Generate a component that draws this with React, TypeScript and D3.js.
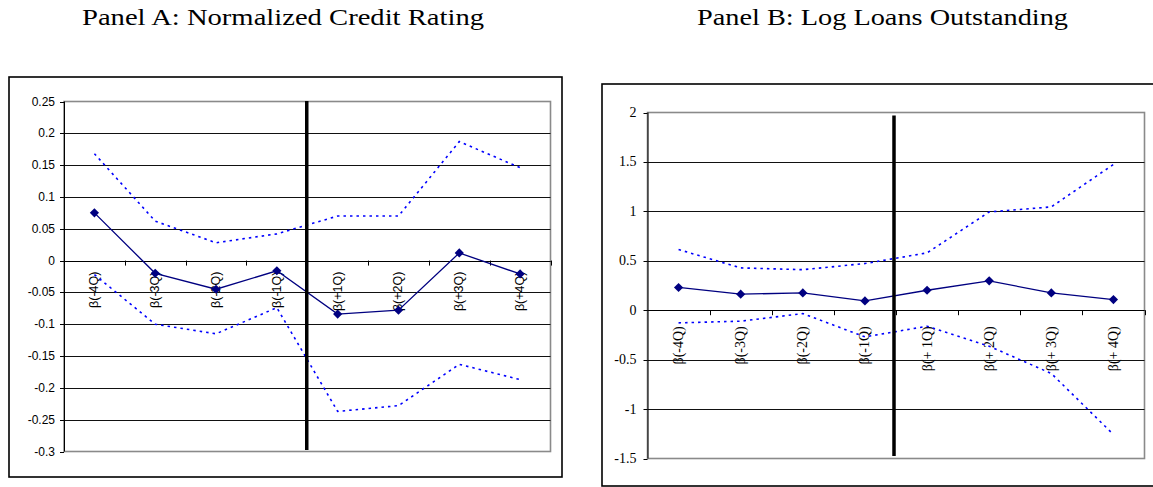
import React from "react";
import * as d3 from "d3";

// Event-window coefficients around the rating change, with confidence bands
const categoriesA = ["β(-4Q)", "β(-3Q)", "β(-2Q)", "β(-1Q)", "β(+1Q)", "β(+2Q)", "β(+3Q)", "β(+4Q)"];
const pointA = [0.075, -0.02, -0.045, -0.016, -0.084, -0.078, 0.012, -0.021];
const upperA = [0.168, 0.062, 0.028, 0.042, 0.07, 0.07, 0.187, 0.146];
const lowerA = [-0.022, -0.1, -0.115, -0.074, -0.237, -0.228, -0.163, -0.187];
const ticksA = [0.25, 0.2, 0.15, 0.1, 0.05, 0, -0.05, -0.1, -0.15, -0.2, -0.25, -0.3];
const tickLabelsA = ["0.25", "0.2", "0.15", "0.1", "0.05", "0", "-0.05", "-0.1", "-0.15", "-0.2", "-0.25", "-0.3"];

const categoriesB = ["β(-4Q)", "β(-3Q)", "β(-2Q)", "β(-1Q)", "β(+ 1Q)", "β(+ 2Q)", "β(+ 3Q)", "β(+ 4Q)"];
const pointB = [0.23, 0.162, 0.175, 0.094, 0.202, 0.297, 0.175, 0.108];
const upperB = [0.614, 0.428, 0.41, 0.472, 0.58, 0.994, 1.045, 1.474];
const lowerB = [-0.128, -0.111, -0.034, -0.27, -0.162, -0.364, -0.64, -1.257];
const ticksB = [2, 1.5, 1, 0.5, 0, -0.5, -1, -1.5];
const tickLabelsB = ["2", "1.5", "1", "0.5", "0", "-0.5", "-1", "-1.5"];

const SERIF = "Liberation Serif, Times New Roman, Times, serif";
const SANS = "Liberation Sans, Arial, Helvetica, sans-serif";

type PanelProps = {
  frame: { x: number; y: number; w: number; h: number };
  plot: { left: number; top: number; right: number; bottom: number };
  categories: string[];
  point: number[];
  upper: number[];
  lower: number[];
  ticks: number[];
  tickLabels: string[];
  font: string;
  yFontSize: number;
  yLabelGap: number;
  xFontSize: number;
  xLabelGap: number;
  eventLine: { top: number; bottom: number; dx: number };
};

function Panel(p: PanelProps) {
  const x = d3
    .scaleBand<string>()
    .domain(p.categories)
    .range([p.plot.left, p.plot.right])
    .paddingInner(0)
    .paddingOuter(0);
  const y = d3
    .scaleLinear()
    .domain([d3.min(p.ticks)!, d3.max(p.ticks)!])
    .range([p.plot.bottom, p.plot.top]);
  const cx = (i: number) => x(p.categories[i])! + x.bandwidth() / 2;
  const line = d3
    .line<number>()
    .x((_, i) => cx(i))
    .y((d) => y(d));
  const zeroY = y(0);
  const bounds = p.categories.map((c) => x(c)!).concat([p.plot.right]);
  const eventX = x(p.categories[4])! + p.eventLine.dx;
  const diamond = (px: number, py: number, r: number) =>
    `M${px},${py - r}L${px + r},${py}L${px},${py + r}L${px - r},${py}Z`;

  return (
    <g>
      <rect
        x={p.frame.x}
        y={p.frame.y}
        width={p.frame.w}
        height={p.frame.h}
        fill="#fff"
        stroke="#000"
        strokeWidth={1.6}
      />
      {/* plot area border */}
      <rect
        x={p.plot.left}
        y={p.plot.top}
        width={p.plot.right - p.plot.left}
        height={p.plot.bottom - p.plot.top}
        fill="none"
        stroke="#8a8a8a"
        strokeWidth={1.6}
      />
      {/* horizontal gridlines */}
      {p.ticks
        .filter((t) => t !== d3.max(p.ticks) && t !== d3.min(p.ticks))
        .map((t) => (
          <line
            key={"g" + t}
            x1={p.plot.left}
            x2={p.plot.right}
            y1={Math.round(y(t)) + 0.5}
            y2={Math.round(y(t)) + 0.5}
            stroke="#111"
            strokeWidth={1}
          />
        ))}
      {/* value axis */}
      <line
        x1={p.plot.left + 0.5}
        x2={p.plot.left + 0.5}
        y1={p.plot.top}
        y2={p.plot.bottom}
        stroke="#000"
        strokeWidth={1}
      />
      {p.ticks.map((t, i) => (
        <g key={"t" + t}>
          <line
            x1={p.plot.left - 4}
            x2={p.plot.left}
            y1={Math.round(y(t)) + 0.5}
            y2={Math.round(y(t)) + 0.5}
            stroke="#000"
          />
          <text
            x={p.plot.left - p.yLabelGap}
            y={y(t)}
            textAnchor="end"
            dominantBaseline="central"
            style={{ fontFamily: p.font, fontSize: p.yFontSize }}
            fill="#000"
          >
            {p.tickLabels[i]}
          </text>
        </g>
      ))}
      {/* category axis along zero */}
      <line
        x1={p.plot.left}
        x2={p.plot.right}
        y1={Math.round(zeroY) + 0.5}
        y2={Math.round(zeroY) + 0.5}
        stroke="#000"
        strokeWidth={1}
      />
      {bounds.slice(1).map((b, i) => (
        <line
          key={"b" + i}
          x1={Math.round(b) + 0.5}
          x2={Math.round(b) + 0.5}
          y1={zeroY}
          y2={zeroY + 5}
          stroke="#000"
        />
      ))}
      {p.categories.map((c, i) => (
        <text
          key={"c" + c}
          transform={`translate(${cx(i)},${zeroY + p.xLabelGap}) rotate(-90)`}
          textAnchor="end"
          dominantBaseline="central"
          style={{ fontFamily: p.font, fontSize: p.xFontSize }}
          fill="#000"
        >
          {c}
        </text>
      ))}
      {/* confidence bands */}
      <path
        d={line(p.upper)!}
        fill="none"
        stroke="#0000ff"
        strokeWidth={1.6}
        strokeDasharray="2.5,4"
      />
      <path
        d={line(p.lower)!}
        fill="none"
        stroke="#0000ff"
        strokeWidth={1.6}
        strokeDasharray="2.5,4"
      />
      {/* point estimates */}
      <path d={line(p.point)!} fill="none" stroke="#000080" strokeWidth={1.3} />
      {p.point.map((v, i) => (
        <path key={"m" + i} d={diamond(cx(i), y(v), 4.6)} fill="#000080" />
      ))}
      {/* event date marker */}
      <line
        x1={eventX}
        x2={eventX}
        y1={p.eventLine.top}
        y2={p.eventLine.bottom}
        stroke="#000"
        strokeWidth={3.5}
      />
    </g>
  );
}

export default function App() {
  return (
    <svg
      width={1153}
      height={487}
      style={{ position: "absolute", left: 0, top: 0, background: "#fff" }}
    >
      <rect width={1153} height={487} fill="#fff" />
      <text
        x={283}
        y={25}
        textAnchor="middle"
        style={{ fontFamily: SERIF, fontSize: 24 }}
        textLength={402}
        lengthAdjust="spacingAndGlyphs"
      >
        Panel A: Normalized Credit Rating
      </text>
      <text
        x={882.5}
        y={25}
        textAnchor="middle"
        style={{ fontFamily: SERIF, fontSize: 24 }}
        textLength={371}
        lengthAdjust="spacingAndGlyphs"
      >
        Panel B: Log Loans Outstanding
      </text>
      <Panel
        frame={{ x: 9, y: 77, w: 553, h: 400 }}
        plot={{ left: 64, top: 101.5, right: 550.5, bottom: 451.5 }}
        categories={categoriesA}
        point={pointA}
        upper={upperA}
        lower={lowerA}
        ticks={ticksA}
        tickLabels={tickLabelsA}
        font={SANS}
        yFontSize={12}
        yLabelGap={9}
        xFontSize={12.5}
        xLabelGap={11}
        eventLine={{ top: 101, bottom: 450, dx: -0.5 }}
      />
      <Panel
        frame={{ x: 602, y: 84, w: 560, h: 402 }}
        plot={{ left: 647.5, top: 112.5, right: 1144.5, bottom: 458.5 }}
        categories={categoriesB}
        point={pointB}
        upper={upperB}
        lower={lowerB}
        ticks={ticksB}
        tickLabels={tickLabelsB}
        font={SERIF}
        yFontSize={14}
        yLabelGap={11}
        xFontSize={14}
        xLabelGap={16}
        eventLine={{ top: 115.5, bottom: 456, dx: -2 }}
      />
    </svg>
  );
}
